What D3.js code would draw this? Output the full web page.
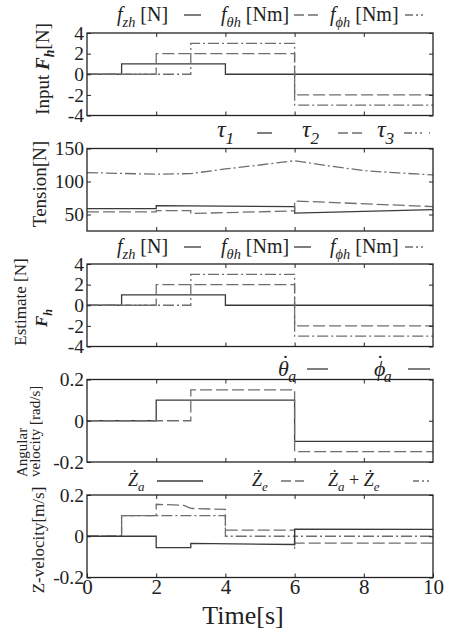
<!DOCTYPE html>
<html>
<head>
<meta charset="utf-8">
<script src="https://cdn.jsdelivr.net/npm/d3@7"></script>
<style>
  body { margin: 0; background: #fff; }
</style>
</head>
<body>
<svg id="chart" width="451" height="633"></svg>
<script>
// time axis
const timeDomain = [0, 10];
const timeTicks = [0, 2, 4, 6, 8, 10];

// series are breakpoints [t, value]
// panel 1: input force
const inFzh = [[0, 0], [1, 0], [1, 1], [4, 1], [4, 0], [10, 0]];
const inFtheta = [[0, 0], [2, 0], [2, 2], [6, 2], [6, -2], [10, -2]];
const inFphi = [[0, 0], [3, 0], [3, 3], [6, 3], [6, -3], [10, -3]];
const forceTicks = [-4, -2, 0, 2, 4];

// panel 2: tensions
const tau1 = [[0, 59], [2, 59], [2, 63.5], [6, 62], [6, 52], [10, 57.5]];
const tau2 = [[0, 54], [2, 54], [2, 56], [3, 56], [3, 51.5], [6, 55.5], [6, 70.5], [10, 62]];
const tau3 = [[0, 113.5], [2, 111], [3, 112], [4, 119], [5, 125], [6, 131.5], [7, 123.5], [8, 116.5], [9, 113], [10, 110]];
const tensionTicks = [50, 100, 150];

// panel 3: estimated force
const estFzh = [[0, 0], [1, 0], [1, 1], [4, 1], [4, 0], [10, 0]];
const estFtheta = [[0, 0], [2, 0], [2, 2], [6, 2], [6, -2], [10, -2]];
const estFphi = [[0, 0], [3, 0], [3, 3], [6, 3], [6, -3], [10, -3]];

// panel 4: angular velocity
const thetaDot = [[0, 0], [2, 0], [2, 0.1], [6, 0.1], [6, -0.1], [10, -0.1]];
const phiDot = [[0, 0], [3, 0], [3, 0.15], [6, 0.15], [6, -0.15], [10, -0.15]];
const velTicks = [-0.2, 0, 0.2];

// panel 5: z velocity
const zaDot = [[0, 0], [2, 0], [2, -0.055], [3, -0.055], [3, -0.035], [6, -0.04], [6, 0.034], [10, 0.033]];
const zeDot = [[0, 0], [1, 0], [1, 0.1], [2, 0.1], [2, 0.155], [2.8, 0.15], [3, 0.135], [4, 0.13], [4, 0.03], [6, 0.03], [6, -0.033], [10, -0.033]];
const zSum = [[0, 0], [1, 0], [1, 0.1], [4, 0.1], [4, 0], [6, 0], [6, -0.06], [6, 0], [10, 0]];

const FONT = '"Liberation Serif", "Times New Roman", Times, serif';
const left = 87, right = 433;
const panelTop = 33, panelStep = 115.5, panelH = 82.5;

const STYLE = {
    solid: { stroke: '#3a3a3a', dash: null },
    dash: { stroke: '#6e6e6e', dash: '12,4' },
    dashdot: { stroke: '#6e6e6e', dash: '11,3,2,3' }
};

const panels = [
    { domain: [-4, 4], ticks: forceTicks, series: [[inFzh, 'solid'], [inFtheta, 'dash'], [inFphi, 'dashdot']] },
    { domain: [25, 150], ticks: tensionTicks, series: [[tau1, 'solid'], [tau2, 'dash'], [tau3, 'dashdot']] },
    { domain: [-4, 4], ticks: forceTicks, series: [[estFzh, 'solid'], [estFtheta, 'dash'], [estFphi, 'dashdot']] },
    { domain: [-0.2, 0.2], ticks: velTicks, series: [[thetaDot, 'solid'], [phiDot, 'dash']] },
    { domain: [-0.2, 0.2], ticks: velTicks, series: [[zSum, 'dashdot'], [zeDot, 'dash'], [zaDot, 'solid']] }
];

const svg = d3.select('#chart').attr('font-family', FONT);
const x = d3.scaleLinear().domain(timeDomain).range([left, right]);

// text with italic / bold / subscript pieces; dx and raise nudge a piece
function rich(sel, parts, size) {
    let shift = 0;
    parts.forEach(p => {
        const ts = sel.append('tspan').text(p.t);
        const target = (p.sub ? size * 0.28 : 0) - (p.raise || 0);
        if (target - shift !== 0) ts.attr('dy', target - shift);
        shift = target;
        if (p.dx) ts.attr('dx', p.dx);
        if (p.sub) ts.attr('font-size', size * 0.72);
        if (p.i) ts.attr('font-style', 'italic');
        if (p.b) ts.attr('font-weight', 'bold');
    });
    return sel;
}

function styleAxis(a, size) {
    a.attr('font-family', FONT).attr('font-size', size);
    a.select('.domain').remove();
    a.selectAll('line').attr('stroke', '#222');
    a.selectAll('text').attr('fill', '#222');
}

panels.forEach((p, i) => {
    const top = panelTop + i * panelStep, bottom = top + panelH;
    const y = d3.scaleLinear().domain(p.domain).range([bottom, top]);
    const g = svg.append('g');
    const ln = d3.line().x(d => x(d[0])).y(d => y(d[1]));

    p.series.forEach(([data, st]) => {
        g.append('path')
            .attr('d', ln(data))
            .attr('fill', 'none')
            .attr('stroke', STYLE[st].stroke)
            .attr('stroke-width', 1.3)
            .attr('stroke-dasharray', STYLE[st].dash);
    });

    g.append('rect')
        .attr('x', left).attr('y', top)
        .attr('width', right - left).attr('height', panelH)
        .attr('fill', 'none').attr('stroke', '#222').attr('stroke-width', 1.3);

    g.append('g').attr('transform', `translate(${left},0)`)
        .call(d3.axisLeft(y).tickValues(p.ticks).tickFormat(d => String(d)).tickSize(-4).tickPadding(3))
        .call(a => styleAxis(a, 19.5));
    g.append('g').attr('transform', `translate(${right},0)`)
        .call(d3.axisRight(y).tickValues(p.ticks).tickFormat('').tickSize(-4))
        .call(a => styleAxis(a, 19));
    g.append('g').attr('transform', `translate(0,${top})`)
        .call(d3.axisTop(x).tickValues([2, 4, 6, 8]).tickFormat('').tickSize(-4))
        .call(a => styleAxis(a, 19));
    const last = i === panels.length - 1;
    g.append('g').attr('transform', `translate(0,${bottom})`)
        .call(d3.axisBottom(x).tickValues(last ? timeTicks : [2, 4, 6, 8])
            .tickFormat(last ? (d => String(d)) : '').tickSize(-4).tickPadding(2))
        .call(a => styleAxis(a, 21));
});

// legends
function legendText(xp, yp, parts, size) {
    return rich(svg.append('text').attr('x', xp).attr('y', yp).attr('fill', '#222').attr('font-size', size), parts, size);
}
function sample(x1, x2, yp, st, dash) {
    svg.append('line')
        .attr('x1', x1).attr('x2', x2).attr('y1', yp).attr('y2', yp)
        .attr('stroke', STYLE[st].stroke).attr('stroke-width', 1.3)
        .attr('stroke-dasharray', dash);
}

const fLegend = (base, secondSolid) => {
    legendText(117, base, [{ t: 'f', i: 1 }, { t: 'zh', i: 1, sub: 1 }, { t: ' [N]' }], 20);
    sample(184, 201, base - 6, 'solid', null);
    legendText(221, base, [{ t: 'f', i: 1 }, { t: 'θh', i: 1, sub: 1 }, { t: ' [Nm]' }], 20);
    if (secondSolid) sample(294, 311, base - 6, 'solid', null);
    else sample(294, 318, base - 6, 'dash', '10,4');
    legendText(330, base, [{ t: 'f', i: 1 }, { t: 'ϕh', i: 1, sub: 1 }, { t: ' [Nm]' }], 20);
    sample(405, 430, base - 6, 'dashdot', '8,3,2,3,2,7');
};
fLegend(21, false);
fLegend(253, true);

// tension legend
legendText(217, 137, [{ t: 'τ', i: 1 }, { t: '1', i: 1, sub: 1 }], 24);
sample(257, 272, 133, 'solid', null);
legendText(302, 137, [{ t: 'τ', i: 1 }, { t: '2', i: 1, sub: 1 }], 24);
sample(338, 362, 133, 'dash', '10,4');
legendText(377, 137, [{ t: 'τ', i: 1 }, { t: '3', i: 1, sub: 1 }], 24);
sample(404, 430, 133, 'dashdot', '8,3,2,3,2,7');

// angular velocity legend, dot accent set back over the symbol
legendText(278, 376, [{ t: 'θ', i: 1 }, { t: '˙', dx: -7, raise: 6 }, { t: 'a', i: 1, sub: 1, dx: -1 }], 22);
sample(307, 328, 369, 'solid', null);
legendText(374, 376, [{ t: 'ϕ', i: 1 }, { t: '˙', dx: -9, raise: 6 }, { t: 'a', i: 1, sub: 1, dx: 0 }], 22);
sample(408, 430, 369, 'solid', null);

// z velocity legend
legendText(128, 486, [{ t: 'Ż', i: 1 }, { t: 'a', i: 1, sub: 1 }], 18);
sample(157, 203, 481, 'solid', null);
legendText(252, 486, [{ t: 'Ż', i: 1 }, { t: 'e', i: 1, sub: 1 }], 18);
sample(281, 304, 481, 'dash', '10,4');
legendText(328, 486, [{ t: 'Ż', i: 1 }, { t: 'a', i: 1, sub: 1 }, { t: ' + ' }, { t: 'Ż', i: 1 }, { t: 'e', i: 1, sub: 1 }], 18);
sample(413, 430, 481, 'dashdot', '6,3,2,3,2,3');

// y axis labels
function yLabel(xp, yp, parts, size, anchor) {
    const t = svg.append('text')
        .attr('transform', `translate(${xp},${yp}) rotate(-90)`)
        .attr('text-anchor', anchor || 'middle')
        .attr('fill', '#222').attr('font-size', size);
    rich(t, parts, size);
}
yLabel(49, 69, [{ t: 'Input ' }, { t: 'F', i: 1, b: 1 }, { t: 'h', i: 1, b: 1, sub: 1 }, { t: '[N]' }], 19);
yLabel(46, 184, [{ t: 'Tension[N]' }], 19);
yLabel(26, 302, [{ t: 'Estimate [N]' }], 17);
yLabel(47, 318, [{ t: 'F', i: 1, b: 1 }, { t: 'h', i: 1, b: 1, sub: 1 }], 17);
yLabel(27, 477, [{ t: 'Angular' }], 15, 'start');
yLabel(40, 477, [{ t: 'velocity [rad/s]' }], 15, 'start');
yLabel(44, 540, [{ t: 'Z-velocity[m/s]' }], 17);

// x axis title
svg.append('text')
    .attr('x', 243).attr('y', 624)
    .attr('text-anchor', 'middle')
    .attr('fill', '#222').attr('font-size', 26)
    .text('Time[s]');
</script>
</body>
</html>
